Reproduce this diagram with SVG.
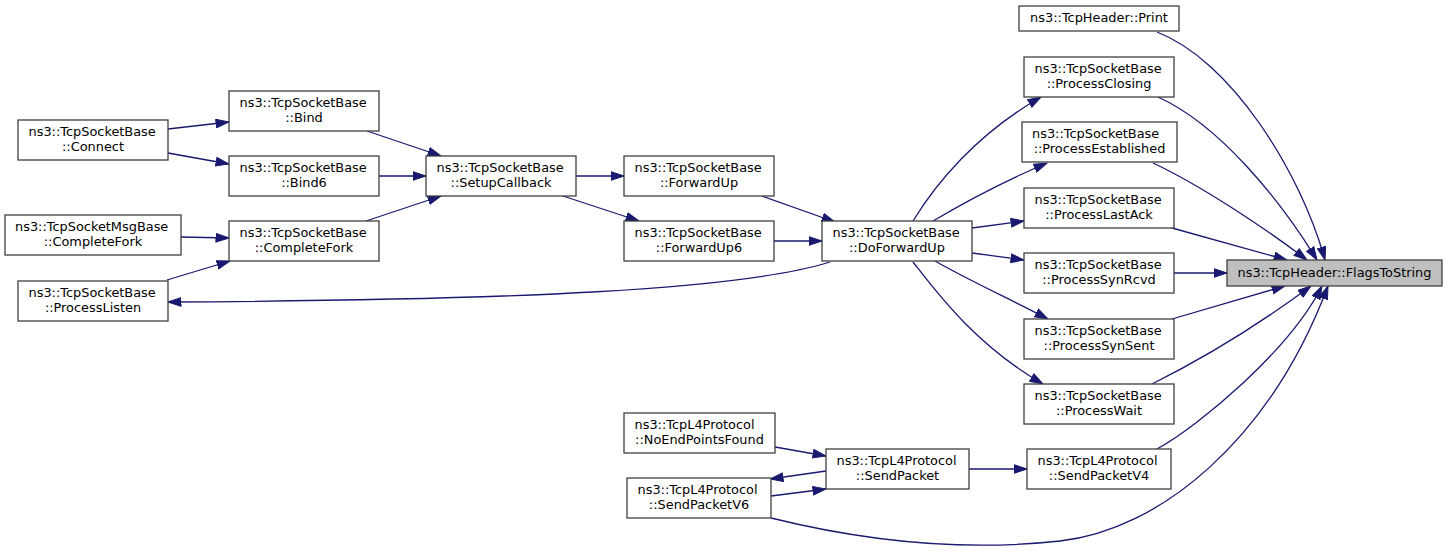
<svg xmlns="http://www.w3.org/2000/svg" width="1448" height="552" viewBox="0 0 1448 552">
<style>
.node rect{fill:#ffffff;stroke:#404040;stroke-width:1.3}
.focus rect{fill:#bfbfbf}
text{font-family:"DejaVu Sans",sans-serif;font-size:12.9px;fill:#000000}
.s{text-anchor:start}
.m{text-anchor:middle}
#edges path{fill:none;stroke:#191970;stroke-width:1.3;marker-end:url(#arr)}
</style>
<defs>
<marker id="arr" markerUnits="userSpaceOnUse" markerWidth="14" markerHeight="10" viewBox="0 0 14 10" refX="13.5" refY="5" orient="auto">
<path d="M0.5,0.7 L13.5,5 L0.5,9.3 z" fill="#191970" stroke="#191970" stroke-width="1"/>
</marker>
</defs>
<rect width="1448" height="552" fill="#ffffff"/>
<g id="edges">
<path d="M168,129 L229,122"/>
<path d="M168,153 L229,164"/>
<path d="M181,237 L229,238"/>
<path d="M167,280 L230,261"/>
<path d="M367,131 L441,156"/>
<path d="M379,176 L426,176"/>
<path d="M366,221 L441,196"/>
<path d="M576,176 L624,176"/>
<path d="M563,196 L639,221"/>
<path d="M762,196 L835,222"/>
<path d="M774,241 L822,241"/>
<path d="M830,262 C740,290 520,300 168,302"/>
<path d="M913,221 C935,185 975,135 1041,97"/>
<path d="M933,221 C960,205 1000,183 1047,163"/>
<path d="M972,228 L1024,221"/>
<path d="M972,253 L1024,260"/>
<path d="M935,261 C970,281 1010,299 1048,319"/>
<path d="M913,262 C935,290 975,345 1043,384"/>
<path d="M1157,32 C1230,60 1300,170 1325,260"/>
<path d="M1158,97 C1220,125 1280,200 1317,260"/>
<path d="M1153,163 C1200,185 1265,228 1307,260"/>
<path d="M1172,228 L1287,260"/>
<path d="M1174,273 L1227,273"/>
<path d="M1172,319 L1285,286"/>
<path d="M1152,384 C1210,355 1265,320 1311,286"/>
<path d="M1157,449 C1200,425 1290,350 1322,286"/>
<path d="M771,518 C860,540 960,552 1060,541 C1160,530 1270,440 1328,286"/>
<path d="M775,447 L826,456"/>
<path d="M826,471 L770,479"/>
<path d="M771,496 L826,489"/>
<path d="M969,469 L1027,469"/>
</g>
<g id="n_flagstostring" class="node focus"><rect x="1227" y="260" width="215" height="26"/><text class="m" x="1334.5" y="277">ns3::TcpHeader::FlagsToString</text></g>
<g id="n_print" class="node"><rect x="1019" y="6" width="160" height="25"/><text class="m" x="1099" y="22">ns3::TcpHeader::Print</text></g>
<g id="n_processclosing" class="node"><rect x="1024" y="57" width="150" height="40"/><text class="s" x="1034.5" y="73">ns3::TcpSocketBase</text><text class="m" x="1099" y="88">::ProcessClosing</text></g>
<g id="n_processestablished" class="node"><rect x="1022" y="122" width="155" height="40"/><text class="s" x="1032" y="138">ns3::TcpSocketBase</text><text class="m" x="1099.5" y="153">::ProcessEstablished</text></g>
<g id="n_processlastack" class="node"><rect x="1024" y="188" width="150" height="40"/><text class="s" x="1034.5" y="204">ns3::TcpSocketBase</text><text class="m" x="1099" y="219">::ProcessLastAck</text></g>
<g id="n_processsynrcvd" class="node"><rect x="1024" y="253" width="150" height="40"/><text class="s" x="1034.5" y="269">ns3::TcpSocketBase</text><text class="m" x="1099" y="284">::ProcessSynRcvd</text></g>
<g id="n_processsynsent" class="node"><rect x="1024" y="319" width="150" height="40"/><text class="s" x="1034.5" y="335">ns3::TcpSocketBase</text><text class="m" x="1099" y="350">::ProcessSynSent</text></g>
<g id="n_processwait" class="node"><rect x="1024" y="384" width="150" height="40"/><text class="s" x="1034.5" y="400">ns3::TcpSocketBase</text><text class="m" x="1099" y="415">::ProcessWait</text></g>
<g id="n_sendpacketv4" class="node"><rect x="1027" y="449" width="144" height="40"/><text class="s" x="1037.5" y="465">ns3::TcpL4Protocol</text><text class="m" x="1099" y="480">::SendPacketV4</text></g>
<g id="n_doforwardup" class="node"><rect x="822" y="221" width="150" height="40"/><text class="s" x="832.5" y="237">ns3::TcpSocketBase</text><text class="m" x="897" y="252">::DoForwardUp</text></g>
<g id="n_forwardup" class="node"><rect x="624" y="156" width="150" height="40"/><text class="s" x="634.5" y="172">ns3::TcpSocketBase</text><text class="m" x="699" y="187">::ForwardUp</text></g>
<g id="n_forwardup6" class="node"><rect x="624" y="221" width="150" height="40"/><text class="s" x="634.5" y="237">ns3::TcpSocketBase</text><text class="m" x="699" y="252">::ForwardUp6</text></g>
<g id="n_setupcallback" class="node"><rect x="426" y="156" width="150" height="40"/><text class="s" x="436.5" y="172">ns3::TcpSocketBase</text><text class="m" x="501" y="187">::SetupCallback</text></g>
<g id="n_bind" class="node"><rect x="229" y="91" width="150" height="40"/><text class="s" x="239.5" y="107">ns3::TcpSocketBase</text><text class="m" x="304" y="122">::Bind</text></g>
<g id="n_bind6" class="node"><rect x="229" y="156" width="150" height="40"/><text class="s" x="239.5" y="172">ns3::TcpSocketBase</text><text class="m" x="304" y="187">::Bind6</text></g>
<g id="n_completefork" class="node"><rect x="229" y="221" width="150" height="40"/><text class="s" x="239.5" y="237">ns3::TcpSocketBase</text><text class="m" x="304" y="252">::CompleteFork</text></g>
<g id="n_connect" class="node"><rect x="18" y="120" width="150" height="40"/><text class="s" x="28.5" y="136">ns3::TcpSocketBase</text><text class="m" x="93" y="151">::Connect</text></g>
<g id="n_msgcompletefork" class="node"><rect x="5" y="215" width="176" height="40"/><text class="s" x="15" y="231">ns3::TcpSocketMsgBase</text><text class="m" x="93" y="246">::CompleteFork</text></g>
<g id="n_processlisten" class="node"><rect x="18" y="281" width="150" height="40"/><text class="s" x="28.5" y="297">ns3::TcpSocketBase</text><text class="m" x="93" y="312">::ProcessListen</text></g>
<g id="n_noendpointsfound" class="node"><rect x="624" y="413" width="151" height="40"/><text class="s" x="634.5" y="429">ns3::TcpL4Protocol</text><text class="m" x="699.5" y="444">::NoEndPointsFound</text></g>
<g id="n_sendpacket" class="node"><rect x="826" y="449" width="143" height="40"/><text class="s" x="836.5" y="465">ns3::TcpL4Protocol</text><text class="m" x="897.5" y="480">::SendPacket</text></g>
<g id="n_sendpacketv6" class="node"><rect x="627" y="478" width="144" height="40"/><text class="s" x="637.5" y="494">ns3::TcpL4Protocol</text><text class="m" x="699" y="509">::SendPacketV6</text></g>
</svg>
